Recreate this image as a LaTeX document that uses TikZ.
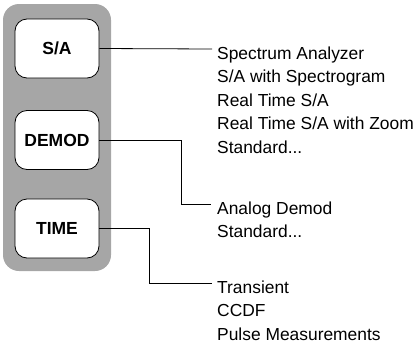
\documentclass[tikz,border=0pt]{standalone}
\usepackage{fontspec}
\setmainfont{Liberation Sans}
\usetikzlibrary{calc}
\begin{document}
\begin{tikzpicture}[x=1pt,y=-1pt,
  panel/.style={fill=black!35, draw=none, rounded corners=16pt},
  keybtn/.style={draw=black, line width=0.8pt, fill=white, rounded corners=12pt,
    minimum width=84pt, minimum height=59pt, inner sep=0pt,
    font=\fontsize{17.5}{20}\selectfont\bfseries},
  menutext/.style={anchor=north west, align=left, inner sep=0pt,
    font=\fontsize{17.4}{23.5}\selectfont},
  conn/.style={draw=black, line width=0.8pt}]
\useasboundingbox (0,0) rectangle (419,343);
\fill[panel] (3,4) rectangle (111,271);
\node[keybtn] (sa) at (57,48.5) {S/A};
\node[keybtn] (demod) at (57,140) {DEMOD};
\node[keybtn] (time) at (57,228.5) {TIME};
\node[menutext] (satext) at (217,46.5) {Spectrum Analyzer\\S/A with Spectrogram\\Real Time S/A\\Real Time S/A with Zoom\\Standard...};
\node[menutext] (demodtext) at (217,201.5) {Analog Demod\\Standard...};
\node[menutext] (timetext) at (217,280.5) {Transient\\CCDF\\Pulse Measurements};
\coordinate (saend) at (212,49);
\coordinate (demodend) at (211,204);
\coordinate (timeend) at (212,283);
\draw[conn] (sa.east) -- (saend);
\draw[conn] (demod.east) -- (181,140) -- (181,204) -- (demodend);
\draw[conn] (time.east) -- (149,228.5) -- (149,283) -- (timeend);
\end{tikzpicture}
\end{document}
